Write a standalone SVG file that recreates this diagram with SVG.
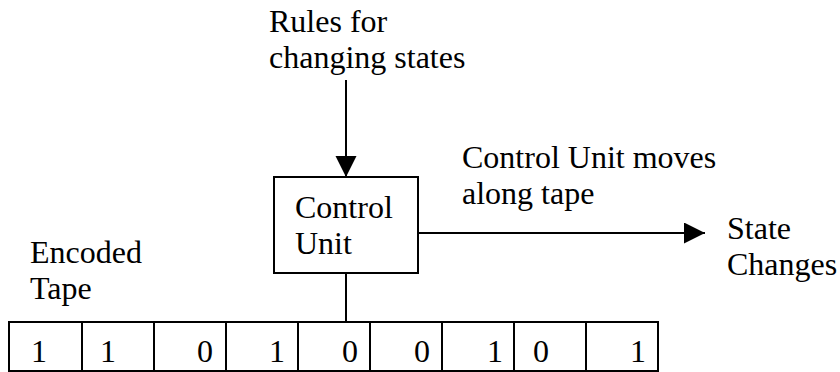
<svg xmlns="http://www.w3.org/2000/svg" width="840" height="372" viewBox="0 0 840 372">
<style>
.t{font-family:'Liberation Serif','Times New Roman',serif;font-size:32px;fill:#000}
.ln{stroke:#000;stroke-width:2;fill:none}
</style>
<defs>
<marker id="ah" markerUnits="userSpaceOnUse" markerWidth="22" markerHeight="22" refX="21" refY="10.5" orient="auto">
<path d="M0,0 L21,10.5 L0,21 Z" fill="#000"/>
</marker>
</defs>
<rect width="840" height="372" fill="#fff"/>
<g class="t">
<g id="rules"><text x="269" y="32">Rules for</text><text x="269" y="68">changing states</text></g>
<g id="control"><rect class="ln" x="274" y="177" width="144" height="96"/><text x="295" y="218">Control</text><text x="295" y="254">Unit</text></g>
<g id="moves"><text x="462" y="168">Control Unit moves</text><text x="462" y="204">along tape</text></g>
<g id="state"><text x="727" y="239">State</text><text x="727" y="275">Changes</text></g>
<g id="encoded"><text x="30" y="263">Encoded</text><text x="30" y="299">Tape</text></g>
<g id="tape">
<rect class="ln" x="9" y="322" width="649" height="49"/>
<path class="ln" d="M82,322V371M154,322V371M226,322V371M298,322V371M370,322V371M442,322V371M514,322V371M586,322V371"/>
<text x="31" y="362">1</text><text x="100" y="362">1</text><text x="197" y="362">0</text><text x="269" y="362">1</text><text x="342" y="362">0</text><text x="414" y="362">0</text><text x="487" y="362">1</text><text x="533" y="362">0</text><text x="630" y="362">1</text>
</g>
</g>
<g id="connectors">
<line class="ln" x1="346" y1="80" x2="346" y2="177" marker-end="url(#ah)"/>
<line class="ln" x1="418" y1="233" x2="705" y2="233" marker-end="url(#ah)"/>
<line class="ln" x1="346" y1="273" x2="346" y2="322"/>
</g>
</svg>
